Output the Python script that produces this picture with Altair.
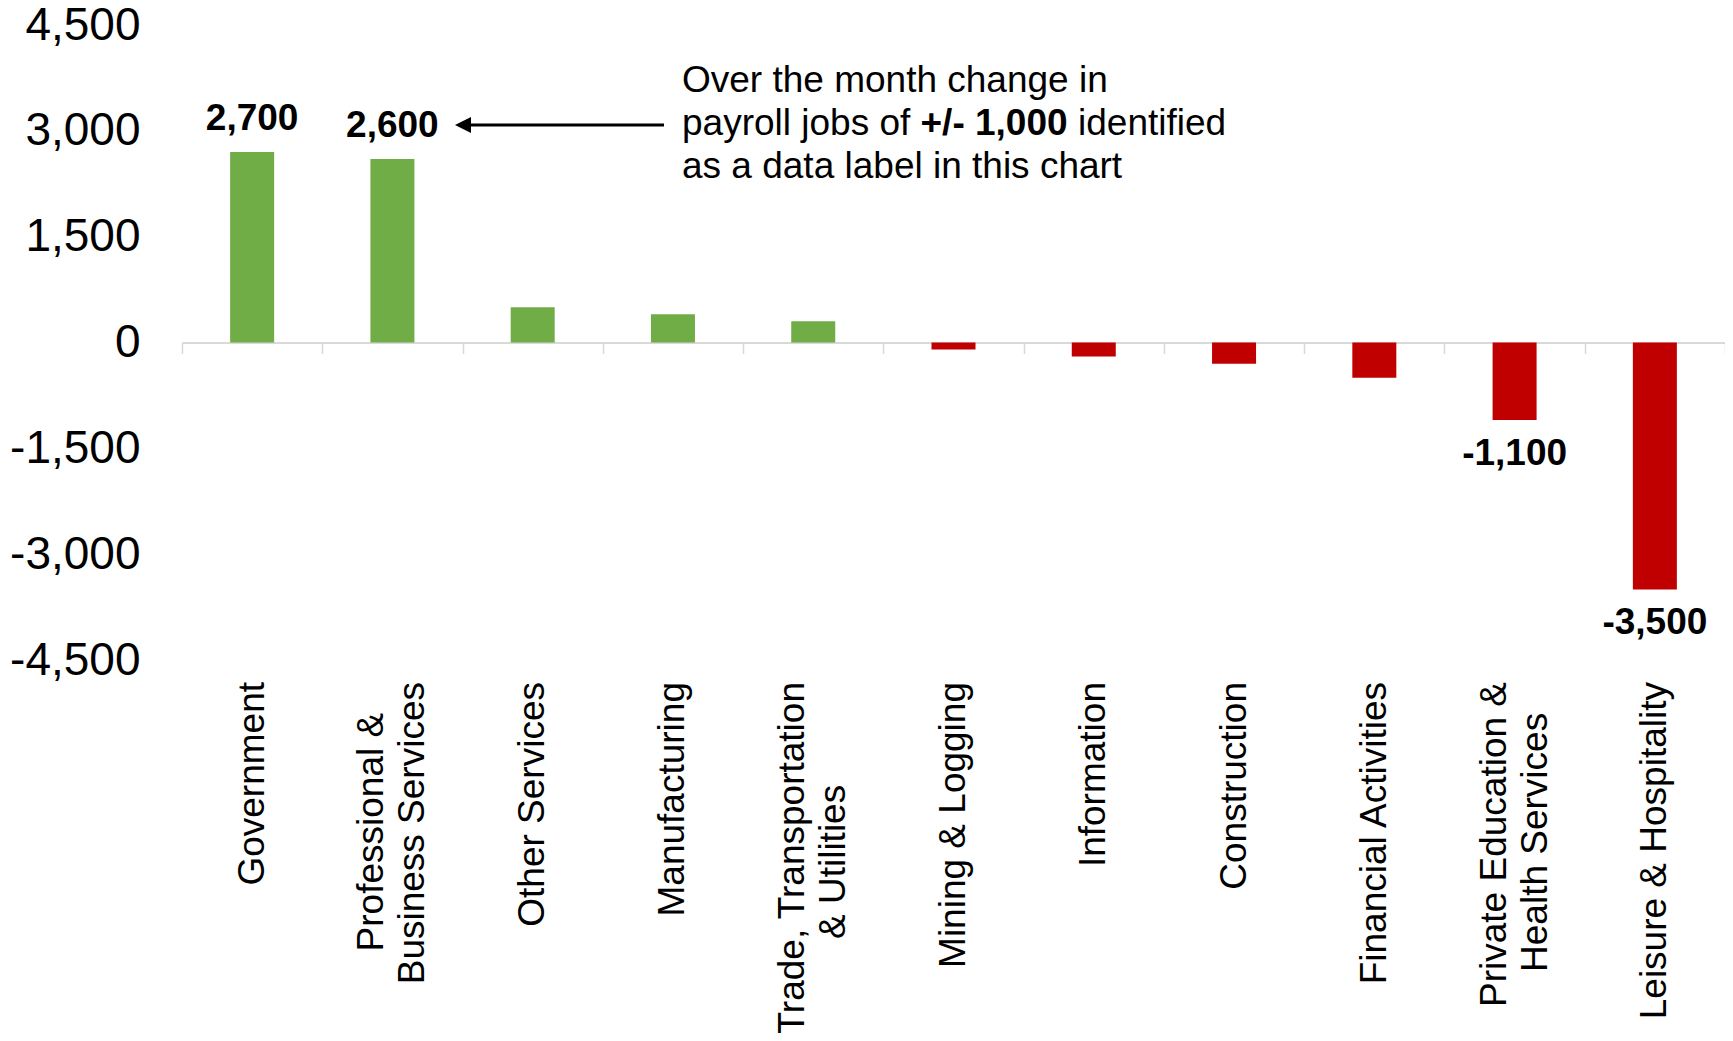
import json
import altair as alt
import pandas as pd

# ---------------- data ----------------
categories = [
    "Government",
    "Professional & Business Services",
    "Other Services",
    "Manufacturing",
    "Trade, Transportation & Utilities",
    "Mining & Logging",
    "Information",
    "Construction",
    "Financial Activities",
    "Private Education & Health Services",
    "Leisure & Hospitality",
]
changes = [2700, 2600, 500, 400, 300, -100, -200, -300, -500, -1100, -3500]
y_ticks = [-4500, -3000, -1500, 0, 1500, 3000, 4500]
label_threshold = 1000

# two-line category labels (trailing no-break spaces centre the shorter line)
NB = "\u00a0"
ZW = "\u200b"
label_lines = {
    "Professional & Business Services": ["Professional &" + NB * 3 + ZW, "Business Services"],
    "Trade, Transportation & Utilities": ["Trade, Transportation", "& Utilities" + NB * 10 + ZW],
    "Private Education & Health Services": ["Private Education &", "Health Services" + NB * 3 + ZW],
}

note_line1 = "Over the month change in"
note_line2a = "payroll jobs of"
note_line2b = "+/- 1,000"
note_line2c = "identified"
note_line3 = "as a data label in this chart"

# ---------------- layout ----------------
W, H = 1543, 635
FONT = "Liberation Sans"
GREEN, RED = "#70AD47", "#C00000"
LINE_H = 41

df = pd.DataFrame({"category": categories, "change": changes})
df["label"] = [f"{v:,}" for v in changes]
df["sign"] = ["pos" if v >= 0 else "neg" for v in changes]

expr = "datum.value"
for k, lines in reversed(list(label_lines.items())):
    expr = f"datum.value === {json.dumps(k)} ? {json.dumps(lines, ensure_ascii=False)} : ({expr})"
two_line_test = " || ".join(f"datum.value === {json.dumps(k)}" for k in label_lines)

x_enc = alt.X(
    "category:N",
    sort=categories,
    title=None,
    scale=alt.Scale(paddingInner=0, paddingOuter=0),
    axis=alt.Axis(
        orient="bottom",
        offset=-H / 2,
        domain=True,
        domainColor="#d9d9d9",
        domainWidth=2,
        ticks=True,
        tickColor="#d9d9d9",
        tickWidth=1.5,
        tickSize=11,
        tickBand="extent",
        grid=False,
        labelAngle=-90,
        labelAlign="right",
        labelBaseline="middle",
        labelPadding=328,
        labelFont=FONT,
        labelFontSize=37,
        labelColor="black",
        labelLineHeight=LINE_H,
        labelLimit=1000,
        labelOverlap=False,
        labelOffset={"condition": {"test": two_line_test, "value": -LINE_H / 2}, "value": 0},
        labelExpr=expr,
    ),
)

y_enc = alt.Y(
    "change:Q",
    title=None,
    scale=alt.Scale(domain=[-4500, 4500], nice=False),
    axis=alt.Axis(
        values=y_ticks,
        domain=False,
        ticks=False,
        grid=False,
        labelFont=FONT,
        labelFontSize=46,
        labelColor="black",
        labelPadding=42,
        labelExpr="replace(format(datum.value, ','), '\u2212', '-')",
    ),
)

base = alt.Chart(df)

bars = base.mark_bar(size=44).encode(
    x=x_enc,
    y=y_enc,
    color=alt.Color("sign:N", scale=alt.Scale(domain=["pos", "neg"], range=[GREEN, RED]), legend=None),
)

pos_labels = base.transform_filter(f"datum.change >= {label_threshold}").mark_text(
    dy=-33, font=FONT, fontSize=37, fontWeight="bold", baseline="middle", color="black"
).encode(x=alt.X("category:N", sort=categories), y="change:Q", text="label:N")

neg_labels = base.transform_filter(f"datum.change <= -{label_threshold}").mark_text(
    dy=34, font=FONT, fontSize=37, fontWeight="bold", baseline="middle", color="black"
).encode(x=alt.X("category:N", sort=categories), y="change:Q", text="label:N")

one = pd.DataFrame({"k": [0]})


def note(text, x, y, bold=False):
    return alt.Chart(one).mark_text(
        text=text, align="left", baseline="middle", font=FONT, fontSize=37,
        fontWeight="bold" if bold else "normal", color="black",
    ).encode(x=alt.value(x), y=alt.value(y))


notes = [
    note(note_line1, 500, 56),
    note(note_line2a, 500, 99),
    note(note_line2b, 738.5, 99, bold=True),
    note(note_line2c, 896, 99),
    note(note_line3, 500, 142),
]

arrow_line = alt.Chart(one).mark_rule(strokeWidth=3, color="black").encode(
    x=alt.value(287), x2=alt.value(482), y=alt.value(100)
)
arrow_head = alt.Chart(one).mark_point(
    shape="M -1 0 L 1 -1 L 1 1 Z", size=256, filled=True, color="black", opacity=1, strokeWidth=0
).encode(x=alt.value(281), y=alt.value(100))

chart = alt.layer(bars, pos_labels, neg_labels, *notes, arrow_line, arrow_head).properties(
    width=W,
    height=H,
    autosize=alt.AutoSizeParams(type="none"),
    padding={"left": 174, "top": 17, "right": 0, "bottom": 373},
).configure_view(strokeWidth=0)

chart.save("out.html", embed_options={"renderer": "svg", "actions": False})
